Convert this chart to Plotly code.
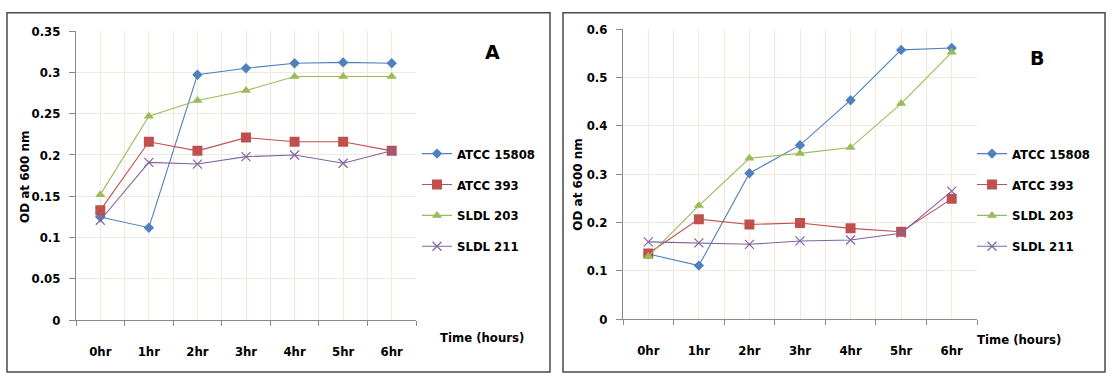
import plotly.graph_objects as go

W, H = 1111, 383

categories = ["0hr", "1hr", "2hr", "3hr", "4hr", "5hr", "6hr"]
series_names = ["ATCC 15808", "ATCC 393", "SLDL 203", "SLDL 211"]

a_atcc15808 = [0.125, 0.112, 0.297, 0.305, 0.311, 0.312, 0.311]
a_atcc393 = [0.133, 0.216, 0.205, 0.221, 0.216, 0.216, 0.205]
a_sldl203 = [0.152, 0.247, 0.266, 0.278, 0.295, 0.295, 0.295]
a_sldl211 = [0.121, 0.191, 0.189, 0.198, 0.200, 0.190, 0.205]

b_atcc15808 = [0.135, 0.111, 0.302, 0.360, 0.453, 0.557, 0.561]
b_atcc393 = [0.136, 0.207, 0.196, 0.199, 0.188, 0.181, 0.249]
b_sldl203 = [0.130, 0.235, 0.333, 0.343, 0.355, 0.446, 0.552]
b_sldl211 = [0.160, 0.158, 0.155, 0.162, 0.164, 0.178, 0.265]

a_yticks = [0, 0.05, 0.1, 0.15, 0.2, 0.25, 0.3, 0.35]
a_yticktext = ["0", "0.05", "0.1", "0.15", "0.2", "0.25", "0.3", "0.35"]
b_yticks = [0, 0.1, 0.2, 0.3, 0.4, 0.5, 0.6]
b_yticktext = ["0", "0.1", "0.2", "0.3", "0.4", "0.5", "0.6"]

colors = ["#4F81BD", "#C0504D", "#9BBB59", "#8064A2"]
symbols = ["diamond", "square", "triangle-up", "x-thin"]
sizes = [8, 10, 9, 9]

FONT = "Liberation Sans Narrow, DejaVu Sans Condensed, Arial Narrow, sans-serif"
VGRID = "#f8e6d9"
HGRID = "#efe8e3"
AXIS = "#8a8a8a"

xidx = list(range(len(categories)))


def px(x):
    return x / W


def py(y):
    return (H - y) / H


fig = go.Figure()

panels = [
    ("x", "y", "legend", [a_atcc15808, a_atcc393, a_sldl203, a_sldl211], "A"),
    ("x2", "y2", "legend2", [b_atcc15808, b_atcc393, b_sldl203, b_sldl211], "B"),
]
for xa, ya, leg, data, tag in panels:
    for i, (name, vals) in enumerate(zip(series_names, data)):
        sym = symbols[i]
        marker = dict(symbol=sym, size=sizes[i], color=colors[i])
        if sym == "x-thin":
            marker["line"] = dict(color=colors[i], width=1.2)
        else:
            marker["line"] = dict(color=colors[i], width=0)
        fig.add_trace(go.Scatter(
            x=xidx, y=vals, name="<b>%s</b>" % name, mode="lines+markers",
            line=dict(color=colors[i], width=1.1),
            marker=marker, xaxis=xa, yaxis=ya, legend=leg,
            legendgroup=tag + name, showlegend=True,
        ))

tickfont = dict(family=FONT, size=13, color="#000000")


def xaxis_cfg(domain, anchor):
    return dict(
        domain=domain, anchor=anchor, range=[-0.5, len(categories) - 0.5],
        tickmode="array", tickvals=xidx, ticktext=["<b>%s</b>" % c for c in categories],
        ticks="", showgrid=True, gridcolor=VGRID, gridwidth=1,
        minor=dict(tickmode="array",
                   tickvals=[i - 0.5 for i in range(len(categories) + 1)],
                   ticks="outside", ticklen=5, tickcolor=AXIS,
                   showgrid=True, gridcolor=VGRID, gridwidth=1),
        showline=True, linecolor=AXIS, linewidth=1,
        tickfont=tickfont, ticklabelstandoff=19, zeroline=False, fixedrange=True,
    )


def yaxis_cfg(domain, anchor, tv, tt, rng):
    return dict(
        domain=domain, anchor=anchor, range=rng,
        tickmode="array", tickvals=tv, ticktext=["<b>%s</b>" % t for t in tt],
        ticks="outside", ticklen=6, tickcolor=AXIS,
        showgrid=True, gridcolor=HGRID, gridwidth=1,
        showline=True, linecolor=AXIS, linewidth=1,
        tickfont=tickfont, ticklabelstandoff=6, zeroline=False, fixedrange=True,
    )


legend_common = dict(xanchor="left", yanchor="top",
                     font=dict(family=FONT, size=13, color="#000000"),
                     bgcolor="rgba(0,0,0,0)", tracegroupgap=11, itemwidth=30,
                     traceorder="grouped")

fig.update_layout(
    width=W, height=H, margin=dict(l=0, r=0, t=0, b=0),
    paper_bgcolor="white", plot_bgcolor="white",
    font=dict(family=FONT, color="#000000"),
    xaxis=xaxis_cfg([px(76), px(416)], "y"),
    yaxis=yaxis_cfg([py(326), py(25)], "x", a_yticks, a_yticktext, [0, 0.35]),
    xaxis2=xaxis_cfg([px(623), px(977)], "y2"),
    yaxis2=yaxis_cfg([py(325), py(23)], "x2", b_yticks, b_yticktext, [0, 0.6]),
    legend=dict(x=px(417), y=py(137), **legend_common),
    legend2=dict(x=px(972), y=py(137), **legend_common),
    showlegend=True,
)

shapes = [
    dict(type="rect", xref="paper", yref="paper",
         x0=px(7), x1=px(550), y0=py(380), y1=py(6),
         line=dict(color="#4a4a4a", width=1.5), fillcolor="rgba(0,0,0,0)"),
    dict(type="rect", xref="paper", yref="paper",
         x0=px(563), x1=px(1105), y0=py(380), y1=py(6),
         line=dict(color="#4a4a4a", width=1.5), fillcolor="rgba(0,0,0,0)"),
]
fig.update_layout(shapes=shapes)

ann_font = dict(family=FONT, size=13, color="#000000")
annotations = [
    dict(text="<b>Time (hours)</b>", x=px(482), y=py(344), xref="paper", yref="paper",
         showarrow=False, font=ann_font, xanchor="center", yanchor="middle"),
    dict(text="<b>Time (hours)</b>", x=px(1019), y=py(346), xref="paper", yref="paper",
         showarrow=False, font=ann_font, xanchor="center", yanchor="middle"),
    dict(text="<b>OD at 600 nm</b>", x=px(25), y=py(177), xref="paper", yref="paper",
         showarrow=False, font=dict(family="DejaVu Sans, sans-serif", size=12, color="#000"),
         textangle=-90, xanchor="center", yanchor="middle"),
    dict(text="<b>OD at 600 nm</b>", x=px(578), y=py(185), xref="paper", yref="paper",
         showarrow=False, font=dict(family="DejaVu Sans, sans-serif", size=12, color="#000"),
         textangle=-90, xanchor="center", yanchor="middle"),
    dict(text="<b>A</b>", x=px(492), y=py(47), xref="paper", yref="paper",
         showarrow=False, font=dict(family="DejaVu Sans, sans-serif", size=19, color="#000"),
         xanchor="center", yanchor="middle"),
    dict(text="<b>B</b>", x=px(1037), y=py(53), xref="paper", yref="paper",
         showarrow=False, font=dict(family="DejaVu Sans, sans-serif", size=19, color="#000"),
         xanchor="center", yanchor="middle"),
]
fig.update_layout(annotations=annotations)

fig.write_html("out.html")
